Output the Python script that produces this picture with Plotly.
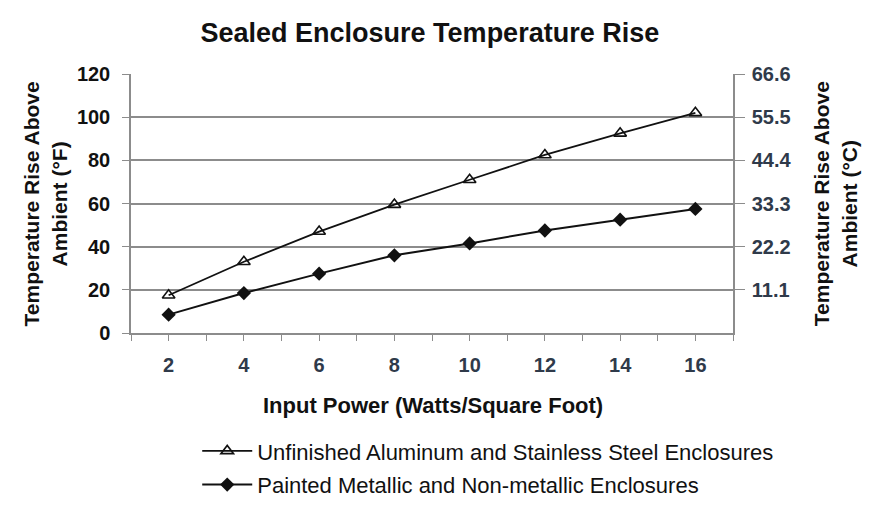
import plotly.graph_objects as go

power = [2, 4, 6, 8, 10, 12, 14, 16]
unfinished = [17.5, 33, 47, 59.5, 71, 82.5, 92.5, 102]
painted = [8.5, 18.5, 27.5, 36, 41.5, 47.5, 52.5, 57.5]
x_tick_positions = list(range(1, 18))
x_tick_labels = [str(v) if v % 2 == 0 and v < 17 else "" for v in x_tick_positions]
left_ticks = [0, 20, 40, 60, 80, 100, 120]
right_ticks = [11.1, 22.2, 33.3, 44.4, 55.5, 66.6]
right_labels = ["11.1", "22.2", "33.3", "44.4", "55.5", "66.6"]

FONT = "Liberation Sans, Arial, sans-serif"
GRID = "#8c8c8c"

fig = go.Figure()
fig.add_trace(go.Scatter(
    x=power, y=unfinished, mode="lines+markers",
    name="Unfinished Aluminum and Stainless Steel Enclosures",
    legendgroup="a",
    line=dict(color="#111111", width=1.8),
    marker=dict(symbol="triangle-up-open", size=11, color="#111111", line=dict(width=1.6)),
))
fig.add_trace(go.Scatter(
    x=power, y=painted, mode="lines+markers",
    name="Painted Metallic and Non-metallic Enclosures",
    legendgroup="b",
    line=dict(color="#111111", width=2),
    marker=dict(symbol="diamond", size=11, color="#111111"),
))
# invisible trace to activate the secondary (°C) axis
fig.add_trace(go.Scatter(
    x=power, y=[v / 1.8018 for v in painted], yaxis="y2", mode="lines",
    line=dict(color="rgba(0,0,0,0)"), showlegend=False, hoverinfo="skip",
))

fig.update_layout(
    width=890, height=506,
    paper_bgcolor="white", plot_bgcolor="white",
    margin=dict(l=123, r=165, t=66, b=181, autoexpand=False),
    font=dict(family=FONT, color="#111111"),
    title=dict(text="<b>Sealed Enclosure Temperature Rise</b>",
               x=0.474, xanchor="center", y=0.951, yanchor="middle",
               font=dict(size=27, family=FONT, color="#111111")),
    xaxis=dict(
        range=[1, 17], tickvals=x_tick_positions, ticktext=x_tick_labels,
        ticks="outside", ticklen=6, tickwidth=1.2,
        tickcolor=GRID, showline=True, linecolor=GRID, linewidth=1.5,
        showgrid=False, zeroline=False, tickangle=0, automargin=False,
        ticklabelstandoff=7,
        tickfont=dict(size=20, family=FONT, color="#2f3a4a", weight="bold"),
    ),
    yaxis=dict(
        range=[0, 120], tickvals=left_ticks, ticks="outside", ticklen=7,
        tickcolor=GRID, showline=True, linecolor=GRID, linewidth=1.5,
        showgrid=True, gridcolor=GRID, gridwidth=1.5, zeroline=False,
        automargin=False, ticklabelstandoff=8,
        tickfont=dict(size=20, family=FONT, color="#111111", weight="bold"),
    ),
    yaxis2=dict(
        range=[0, 66.6], overlaying="y", side="right",
        tickvals=right_ticks, ticktext=right_labels, ticks="outside", ticklen=10,
        tickcolor=GRID, showline=True, linecolor=GRID, linewidth=1.5,
        showgrid=False, zeroline=False, automargin=False, ticklabelstandoff=3,
        tickfont=dict(size=20, family=FONT, color="#2f3a4a", weight="bold"),
    ),
    legend=dict(
        x=0.110, y=-0.375, xanchor="left", yanchor="top",
        font=dict(size=22, family=FONT, color="#111111"),
        bgcolor="rgba(0,0,0,0)", traceorder="grouped", tracegroupgap=2,
        itemwidth=50,
    ),
    showlegend=True,
    annotations=[
        dict(text="<b>Temperature Rise Above<br>Ambient (°F)</b>", textangle=-90,
             xref="paper", yref="paper", x=-0.143, y=0.5,
             xanchor="center", yanchor="middle", showarrow=False,
             font=dict(size=21, family=FONT, color="#111111")),
        dict(text="<b>Temperature Rise Above<br>Ambient (°C)</b>", textangle=-90,
             xref="paper", yref="paper", x=1.169, y=0.5,
             xanchor="center", yanchor="middle", showarrow=False,
             font=dict(size=21, family=FONT, color="#111111")),
        dict(text="<b>Input Power (Watts/Square Foot)</b>",
             xref="paper", yref="paper", x=0.502, y=-0.278,
             xanchor="center", yanchor="middle", showarrow=False,
             font=dict(size=22, family=FONT, color="#111111")),
    ],
)

fig.write_html("out.html")
